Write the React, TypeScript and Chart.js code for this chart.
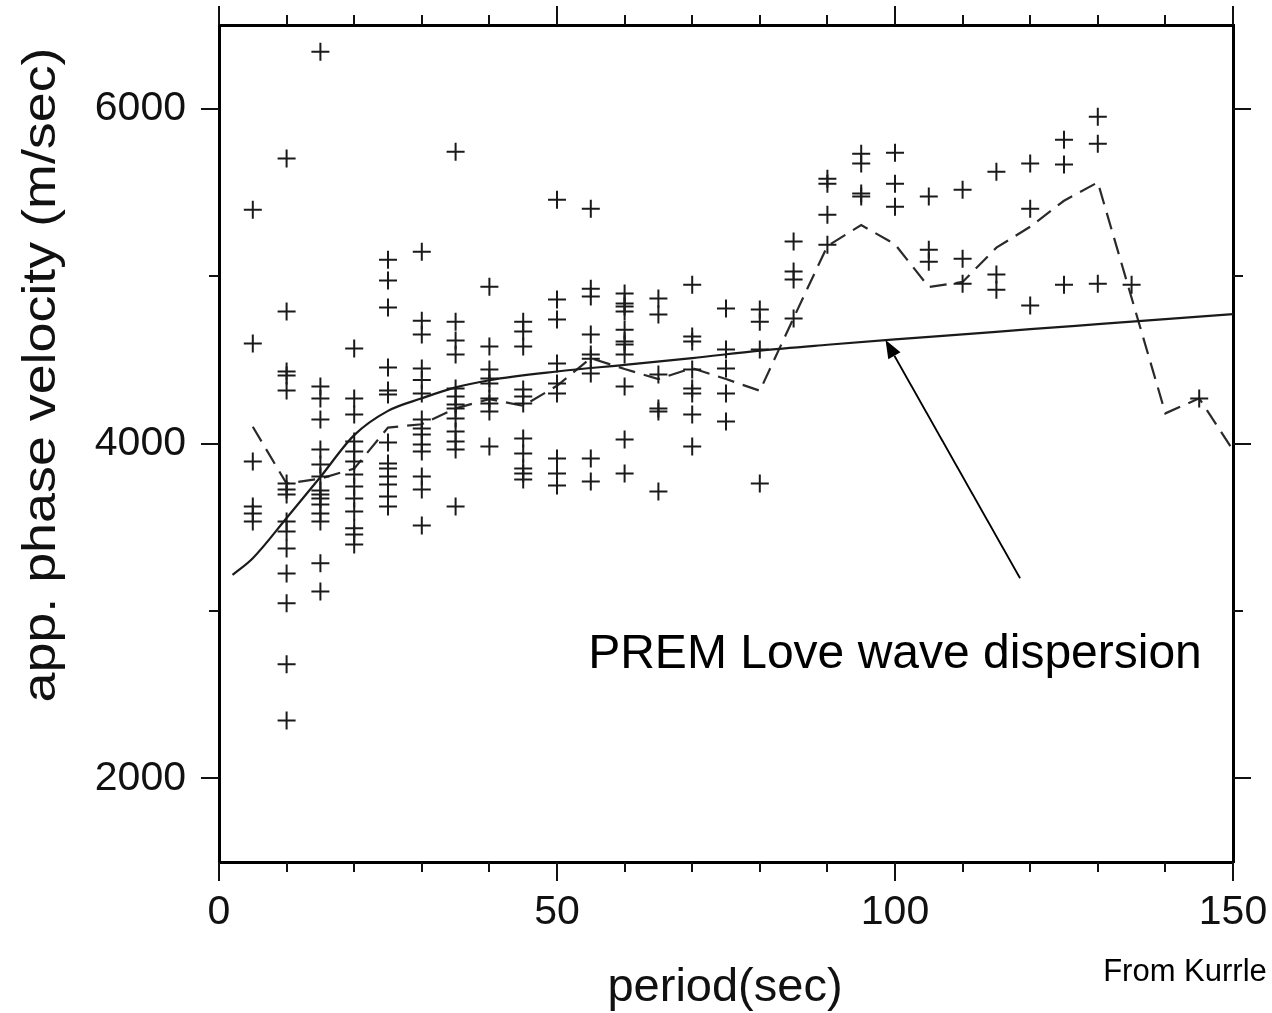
import React, { useEffect, useRef } from "react";
import { Chart, registerables } from "chart.js";

Chart.register(...registerables);

// ---- data ----
const samplePeriods = [5, 10, 15, 20, 25, 30, 35, 40, 45, 50, 55, 60, 65, 70, 75, 80, 85, 90, 95, 100, 105, 110, 115, 120, 125, 130, 135, 145];
const sampleVelocities = [
  [5397, 4597, 3893, 3624, 3582, 3534],
  [5702, 4788, 4430, 4406, 4316, 3761, 3725, 3696, 3534, 3475, 3373, 3224, 3045, 2681, 2346],
  [6340, 4340, 4269, 4143, 3964, 3875, 3803, 3719, 3696, 3672, 3636, 3582, 3534, 3284, 3116],
  [4567, 4269, 4173, 4012, 3952, 3893, 3815, 3743, 3672, 3594, 3493, 3457, 3397],
  [5098, 4973, 4812, 4454, 4316, 4292, 4006, 3881, 3851, 3803, 3755, 3684, 3624],
  [5146, 4734, 4651, 4448, 4380, 4299, 4143, 4090, 4054, 3994, 3952, 3803, 3725, 3510],
  [5743, 4728, 4615, 4531, 4328, 4281, 4233, 4209, 4149, 4072, 4012, 3964, 3624],
  [4937, 4579, 4442, 4388, 4358, 4269, 4239, 4191, 3982],
  [4728, 4669, 4579, 4322, 4281, 4239, 4030, 3940, 3851, 3821, 3785],
  [5456, 4860, 4740, 4478, 4358, 4299, 3910, 3821, 3749],
  [5403, 4925, 4878, 4651, 4531, 4507, 4418, 3910, 3773],
  [4896, 4836, 4818, 4788, 4680, 4609, 4591, 4531, 4340, 4024, 3821],
  [4866, 4770, 4412, 4209, 4191, 3714],
  [4949, 4639, 4609, 4442, 4328, 4299, 4173, 3982],
  [4806, 4561, 4448, 4299, 4131],
  [4800, 4728, 4561, 3761],
  [5206, 5027, 4979, 4746],
  [5582, 5552, 5367, 5188],
  [5731, 5672, 5493, 5475],
  [5737, 5552, 5415],
  [5475, 5158, 5086],
  [5516, 5104, 4955],
  [5624, 5009, 4919],
  [5672, 5403, 4824],
  [5815, 5666, 4949],
  [5952, 5791, 4955],
  [4949],
  [4269],
];

const premPeriods = [2, 5, 10, 15, 20, 25, 30, 35, 40, 50, 60, 70, 80, 90, 100, 110, 120, 130, 140, 150];
const premVelocities = [3215, 3315, 3555, 3800, 4050, 4195, 4270, 4335, 4378, 4430, 4470, 4510, 4555, 4590, 4622, 4652, 4683, 4713, 4743, 4773];

const meanPeriods = [5, 10, 15, 20, 25, 30, 35, 40, 45, 50, 55, 60, 65, 70, 75, 80, 85, 90, 95, 100, 105, 110, 115, 120, 125, 130, 140, 145, 150];
const meanVelocities = [4100, 3760, 3790, 3850, 4095, 4115, 4210, 4265, 4225, 4345, 4510, 4445, 4385, 4450, 4385, 4315, 4750, 5180, 5305, 5190, 4935, 4965, 5170, 5295, 5450, 5560, 4180, 4270, 3960];

const xLabelTicks = [0, 50, 100, 150];
const yLabelTicks = [2000, 4000, 6000];
const xMarkTicks = [0, 10, 20, 30, 40, 50, 60, 70, 80, 90, 100, 110, 120, 130, 140, 150];
const yMarkTicks = [2000, 3000, 4000, 5000, 6000];

const annotationText = "PREM Love wave dispersion";
const creditText = "From Kurrle";
const xTitle = "period(sec)";
const yTitle = "app. phase velocity (m/sec)";

const FONT = "'Liberation Sans', Arial, Helvetica, sans-serif";

const overlay = {
  id: "overlay",
  afterDraw(chart: any) {
    const { ctx, chartArea: ca, scales } = chart;
    const xs = scales.x;
    const ys = scales.y;
    ctx.save();
    ctx.strokeStyle = "#111";
    ctx.lineWidth = 2;
    const seg = (x1: number, y1: number, x2: number, y2: number) => {
      ctx.beginPath();
      ctx.moveTo(x1, y1);
      ctx.lineTo(x2, y2);
      ctx.stroke();
    };
    for (const v of xMarkTicks) {
      const px = Math.round(xs.getPixelForValue(v));
      const len = v % 50 === 0 ? 19 : 10;
      seg(px, ca.top, px, ca.top - len);
      seg(px, ca.bottom, px, ca.bottom + len);
    }
    for (const v of yMarkTicks) {
      const py = Math.round(ys.getPixelForValue(v));
      const len = v % 2000 === 0 ? 18 : 10;
      seg(ca.left, py, ca.left - len, py);
      seg(ca.right, py, ca.right + len, py);
    }

    // arrow
    const tx = xs.getPixelForValue(118.5);
    const ty = ys.getPixelForValue(3195);
    const hx = xs.getPixelForValue(98.6);
    const hy = ys.getPixelForValue(4618);
    ctx.lineWidth = 1.8;
    ctx.strokeStyle = "#000";
    const ang = Math.atan2(hy - ty, hx - tx);
    const hl = 18;
    const hw = 7;
    const bx = hx - Math.cos(ang) * hl;
    const by = hy - Math.sin(ang) * hl;
    seg(tx, ty, bx, by);
    ctx.fillStyle = "#000";
    ctx.beginPath();
    ctx.moveTo(hx, hy);
    ctx.lineTo(bx + Math.sin(ang) * hw, by - Math.cos(ang) * hw);
    ctx.lineTo(bx - Math.sin(ang) * hw, by + Math.cos(ang) * hw);
    ctx.closePath();
    ctx.fill();

    // annotation text
    ctx.fillStyle = "#000";
    ctx.font = `48px ${FONT}`;
    ctx.textAlign = "center";
    ctx.textBaseline = "alphabetic";
    ctx.fillText(annotationText, xs.getPixelForValue(100), ys.getPixelForValue(2660));

    // credit
    ctx.font = `31px ${FONT}`;
    ctx.textBaseline = "middle";
    ctx.fillText(creditText, 1185, 972);

    // axis titles
    ctx.fillStyle = "#111";
    ctx.font = `47px ${FONT}`;
    ctx.textBaseline = "middle";
    ctx.fillText(xTitle, 725, 988);

    ctx.save();
    ctx.translate(42, 375);
    ctx.rotate(-Math.PI / 2);
    const w = ctx.measureText(yTitle).width;
    ctx.scale(655 / w, 1);
    ctx.fillText(yTitle, 0, 0);
    ctx.restore();

    ctx.restore();
  },
};

export default function App() {
  const ref = useRef<HTMLCanvasElement | null>(null);
  useEffect(() => {
    if (!ref.current) return;
    const crosses: { x: number; y: number }[] = [];
    samplePeriods.forEach((p, i) => {
      sampleVelocities[i].forEach((v) => crosses.push({ x: p, y: v }));
    });
    const chart = new Chart(ref.current, {
      type: "scatter",
      data: {
        datasets: [
          {
            label: "observed",
            data: crosses,
            pointStyle: "cross",
            pointRadius: 9,
            pointBorderWidth: 2,
            borderColor: "#1a1a1a",
            backgroundColor: "#1a1a1a",
            showLine: false,
          },
          {
            label: "PREM",
            data: premPeriods.map((p, i) => ({ x: p, y: premVelocities[i] })),
            showLine: true,
            pointRadius: 0,
            borderColor: "#1a1a1a",
            borderWidth: 2.2,
            cubicInterpolationMode: "monotone",
          } as any,
          {
            label: "mean",
            data: meanPeriods.map((p, i) => ({ x: p, y: meanVelocities[i] })),
            showLine: true,
            pointRadius: 0,
            borderColor: "#2a2a2a",
            borderWidth: 2.2,
            borderDash: [17, 9],
            tension: 0,
          } as any,
        ],
      },
      options: {
        animation: false,
        responsive: false,
        maintainAspectRatio: false,
        layout: { padding: 0 },
        plugins: { legend: { display: false }, tooltip: { enabled: false } },
        scales: {
          x: {
            type: "linear",
            position: "bottom",
            min: 0,
            max: 150,
            afterBuildTicks: (s: any) => {
              s.ticks = xLabelTicks.map((v) => ({ value: v }));
            },
            afterFit: (s: any) => {
              s.height = 151;
              s.paddingLeft = 0;
              s.paddingRight = 0;
            },
            grid: { display: false, drawTicks: true, tickLength: 18 },
            border: { display: true, width: 3, color: "#000" },
            ticks: {
              padding: 8,
              color: "#111",
              font: { family: FONT, size: 41 },
              maxRotation: 0,
              autoSkip: false,
              callback: (v: any) => String(v),
            },
          },
          x2: {
            type: "linear",
            position: "top",
            min: 0,
            max: 150,
            ticks: { display: false },
            afterFit: (s: any) => {
              s.height = 25;
              s.paddingLeft = 0;
              s.paddingRight = 0;
            },
            grid: { display: false, drawTicks: false },
            border: { display: true, width: 3, color: "#000" },
          },
          y: {
            type: "linear",
            position: "left",
            min: 1500,
            max: 6500,
            afterBuildTicks: (s: any) => {
              s.ticks = yLabelTicks.map((v) => ({ value: v }));
            },
            afterFit: (s: any) => {
              s.width = 219;
              s.paddingTop = 0;
              s.paddingBottom = 0;
            },
            grid: { display: false, drawTicks: true, tickLength: 18 },
            border: { display: true, width: 3, color: "#000" },
            ticks: { padding: 15, color: "#111", font: { family: FONT, size: 41 }, callback: (v: any) => String(v) },
          },
          y2: {
            type: "linear",
            position: "right",
            min: 1500,
            max: 6500,
            ticks: { display: false },
            afterFit: (s: any) => {
              s.width = 39;
              s.paddingTop = 0;
              s.paddingBottom = 0;
            },
            grid: { display: false, drawTicks: false },
            border: { display: true, width: 3, color: "#000" },
          },
        },
      },
      plugins: [overlay],
    } as any);
    return () => chart.destroy();
  }, []);
  return (
    <div style={{ position: "fixed", left: 0, top: 0, width: 1272, height: 1013, background: "#fff" }}>
      <canvas ref={ref} width={1272} height={1013} style={{ display: "block" }} />
    </div>
  );
}
